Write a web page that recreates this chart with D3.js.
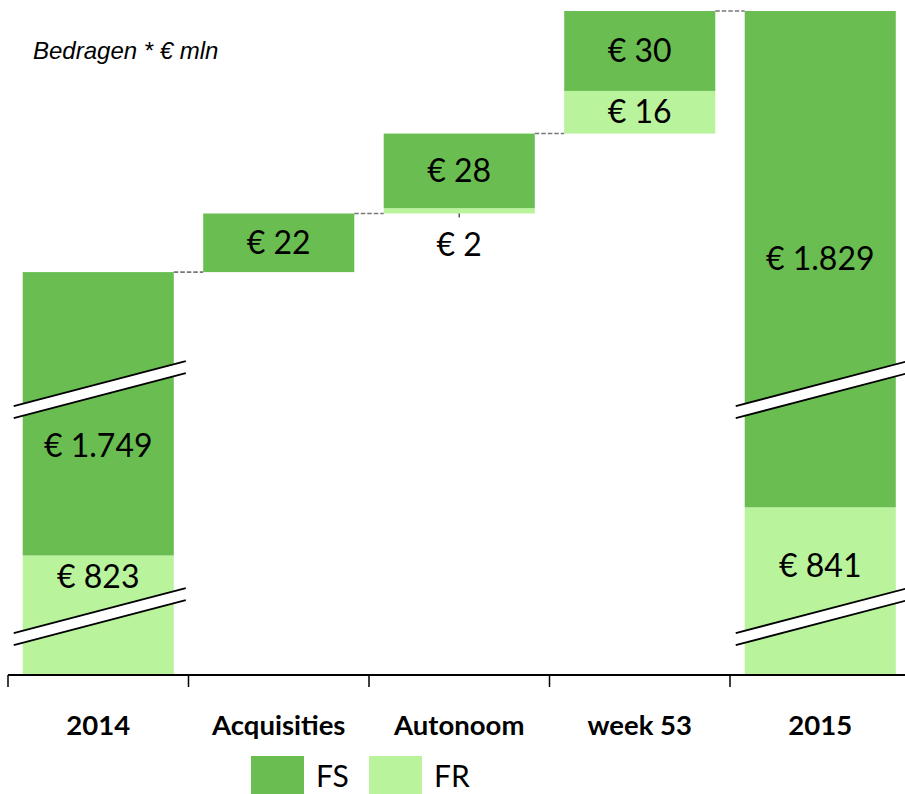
<!DOCTYPE html>
<html>
<head>
<meta charset="utf-8">
<script src="https://cdn.jsdelivr.net/npm/d3@7"></script>
<style>
	body { margin: 0; background: #fff; }
	svg { display: block; }
</style>
</head>
<body>
<div id="chart"></div>
<script>
/* Data */
const categories = ["2014", "Acquisities", "Autonoom", "week 53", "2015"];
const fsValues = [1749, 22, 28, 30, 1829];
const frValues = [823, 0, 2, 16, 841];
const isTotal = [true, false, false, false, true];
// values where the axis is cut (drawn as break marks on the total bars)
const breakValues = [800, 2010];
// label anchors (value) for the total bars: [FR, FS]
const totalLabelAt = { "2014": [815, 864], "2015": [819, 2577] };

const fmt = v => "€ " + d3.format(",")(v).replace(/,/g, ".");

/* Layout */
const W = 905, H = 794;
const base = 675;
const FS_COLOR = "#6abd50";
const FR_COLOR = "#b9f39c";

const svg = d3.select("#chart").append("svg").attr("width", W).attr("height", H);

const x = d3.scaleBand()
	.domain(categories)
	.range([8, 910.5])
	.paddingInner(0.163)
	.paddingOuter(0.0815);
const step = x.step();

// broken scale: compressed stretches stand for the cut parts of the axis
const y = d3.scaleLinear()
	.domain([0, 800, 880, 2530, 2670])
	.range([base, 617, 403, 384, 11]);

// waterfall rows
let running = 0;
const rows = categories.map((c, i) => {
	const start = isTotal[i] ? 0 : running;
	const r = {
		cat: c, i,
		fr0: start, fr1: start + frValues[i],
		fs0: start + frValues[i], fs1: start + frValues[i] + fsValues[i],
		fr: frValues[i], fs: fsValues[i], total: isTotal[i]
	};
	running = r.fs1;
	return r;
});

/* Bars */
const gBars = svg.append("g");
rows.forEach(r => {
	if (r.fr > 0) {
		gBars.append("rect")
			.attr("x", x(r.cat)).attr("width", x.bandwidth())
			.attr("y", y(r.fr1)).attr("height", y(r.fr0) - y(r.fr1))
			.attr("fill", FR_COLOR);
	}
	gBars.append("rect")
		.attr("x", x(r.cat)).attr("width", x.bandwidth())
		.attr("y", y(r.fs1)).attr("height", y(r.fs0) - y(r.fs1))
		.attr("fill", FS_COLOR);
});

/* Connectors */
for (let i = 0; i < rows.length - 1; i++) {
	const yy = y(rows[i].fs1);
	svg.append("line")
		.attr("x1", x(rows[i].cat) + x.bandwidth()).attr("x2", x(rows[i + 1].cat))
		.attr("y1", yy).attr("y2", yy)
		.attr("stroke", "#777").attr("stroke-width", 1.6)
		.attr("stroke-dasharray", "4.5,2");
}

/* Break marks */
const slope = -45 / 172;
rows.filter(r => r.total).forEach(r => {
	const x0 = x(r.cat) - 9, x1 = x(r.cat) + x.bandwidth() + 12;
	const xc = x(r.cat) + x.bandwidth() / 2;
	breakValues.forEach(bv => {
		const yc = y(bv);
		const ly = (xx, off) => yc + off + slope * (xx - xc);
		svg.append("polygon")
			.attr("points", [[x0, ly(x0, -6)], [x1, ly(x1, -6)], [x1, ly(x1, 6)], [x0, ly(x0, 6)]].map(p => p.join(",")).join(" "))
			.attr("fill", "#fff");
		[-6, 6].forEach(off => {
			svg.append("line")
				.attr("x1", x0).attr("y1", ly(x0, off))
				.attr("x2", x1).attr("y2", ly(x1, off))
				.attr("stroke", "#000").attr("stroke-width", 1.8);
		});
	});
});

/* Value labels */
const gLab = svg.append("g")
	.attr("font-family", "Lato, 'Open Sans', sans-serif")
	.attr("font-size", 32)
	.attr("text-anchor", "middle")
	.attr("fill", "#000");
rows.forEach(r => {
	const cx = x(r.cat) + x.bandwidth() / 2;
	if (r.total) {
		const [frAt, fsAt] = totalLabelAt[r.cat];
		gLab.append("text").attr("x", cx).attr("y", y(frAt)).attr("dy", "0.35em").text(fmt(r.fr));
		gLab.append("text").attr("x", cx).attr("y", y(fsAt)).attr("dy", "0.35em").text(fmt(r.fs));
		return;
	}
	if (r.fs > 0) {
		gLab.append("text").attr("x", cx).attr("y", (y(r.fs0) + y(r.fs1)) / 2).attr("dy", "0.35em").text(fmt(r.fs));
	}
	if (r.fr > 0) {
		const h = y(r.fr0) - y(r.fr1);
		if (h < 20) {
			svg.append("line")
				.attr("x1", cx).attr("x2", cx)
				.attr("y1", y(r.fr0)).attr("y2", y(r.fr0) + 4)
				.attr("stroke", "#595959").attr("stroke-width", 1.5);
			gLab.append("text").attr("x", cx).attr("y", y(r.fr0) + 31).attr("dy", "0.35em").text(fmt(r.fr));
		} else {
			gLab.append("text").attr("x", cx).attr("y", (y(r.fr0) + y(r.fr1)) / 2).attr("dy", "0.35em").text(fmt(r.fr));
		}
	}
});

/* Axis */
const axisX0 = x.range()[0];
svg.append("line")
	.attr("x1", axisX0).attr("x2", W)
	.attr("y1", base).attr("y2", base)
	.attr("stroke", "#000").attr("stroke-width", 2);
categories.forEach((c, i) => {
	const tx = axisX0 + i * step;
	svg.append("line")
		.attr("x1", tx).attr("x2", tx)
		.attr("y1", base).attr("y2", base + 12)
		.attr("stroke", "#000").attr("stroke-width", 1.5);
	svg.append("text")
		.attr("x", x(c) + x.bandwidth() / 2).attr("y", 725).attr("dy", "0.35em")
		.attr("text-anchor", "middle")
		.attr("font-family", "Lato, sans-serif").attr("font-weight", "bold").attr("font-size", 27.5)
		.text(c);
});

/* Title */
svg.append("text")
	.attr("x", 33).attr("y", 59)
	.attr("font-family", "'Liberation Sans', Arial, sans-serif")
	.attr("font-style", "italic").attr("font-size", 24)
	.text("Bedragen * € mln");

/* Legend */
const legend = [["FS", FS_COLOR], ["FR", FR_COLOR]];
legend.forEach(([name, col], i) => {
	const lx = 251 + i * 118;
	svg.append("rect").attr("x", lx).attr("y", 756).attr("width", 53).attr("height", 40).attr("fill", col);
	svg.append("text")
		.attr("x", lx + 65).attr("y", 776).attr("dy", "0.35em")
		.attr("font-family", "Lato, sans-serif").attr("font-size", 30)
		.text(name);
});
</script>
</body>
</html>
